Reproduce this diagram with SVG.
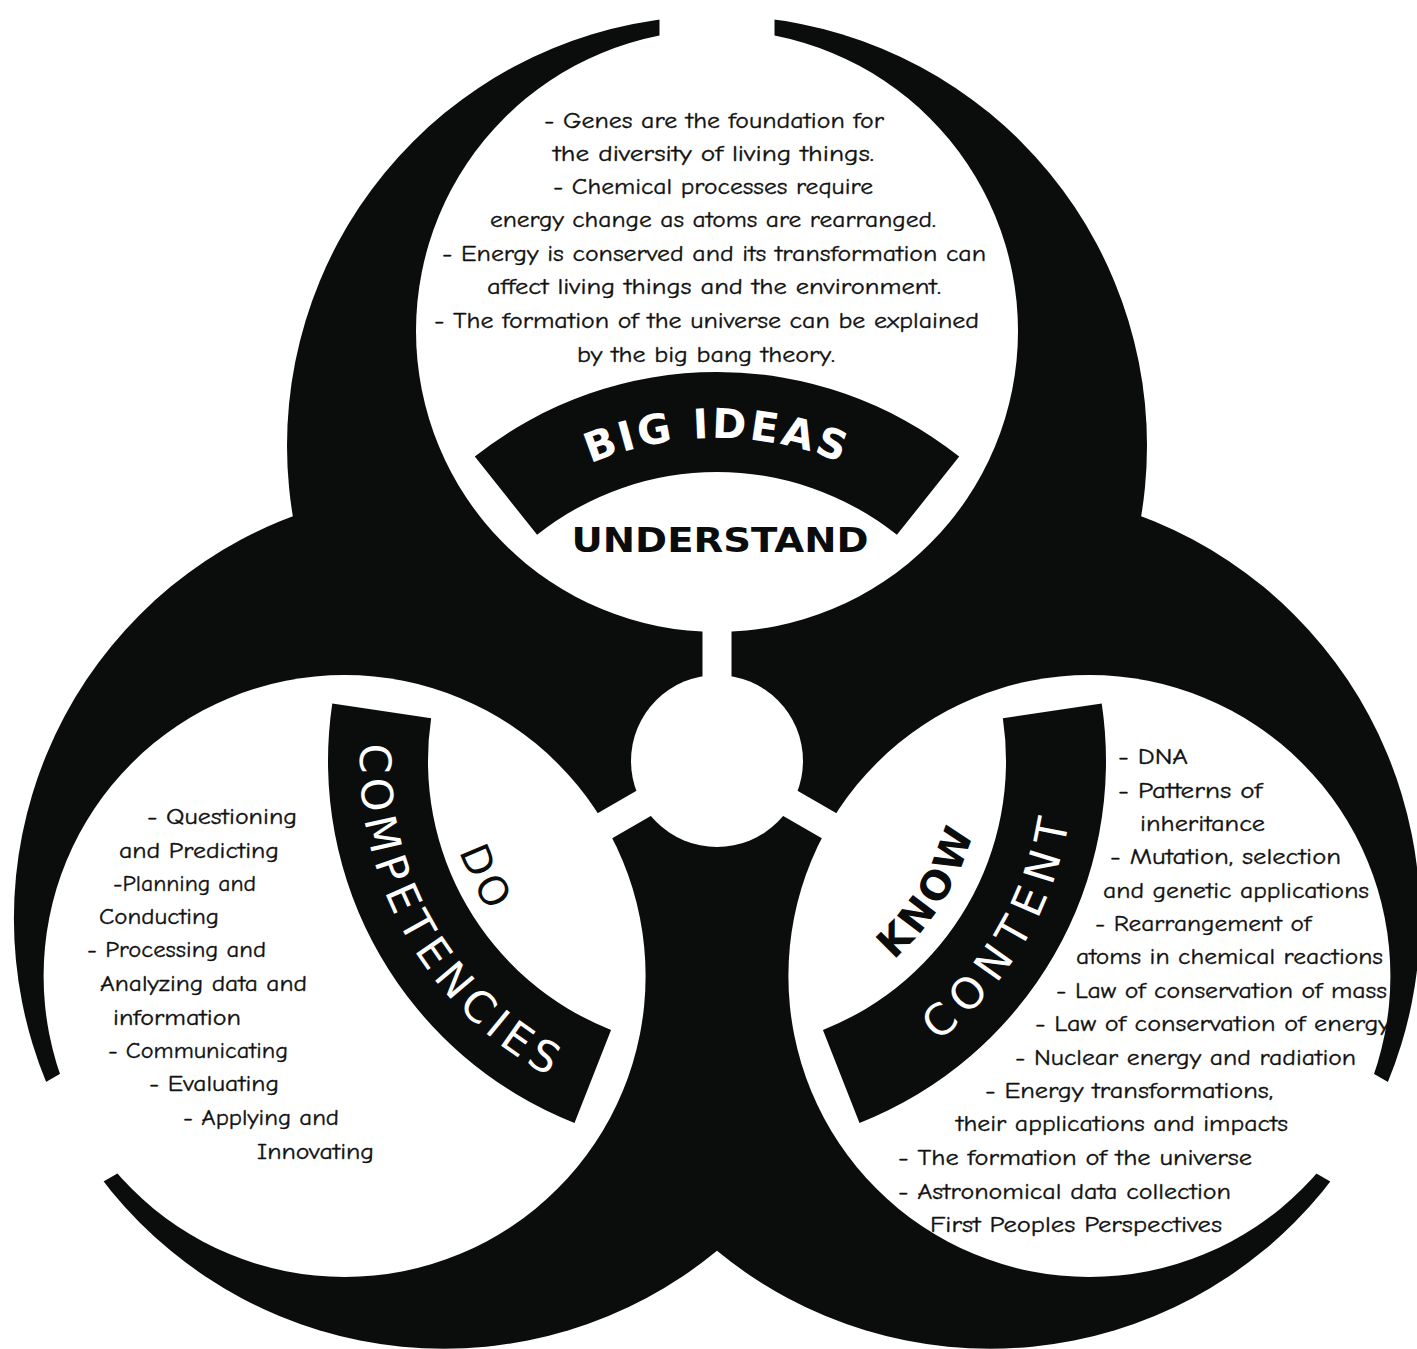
<svg xmlns="http://www.w3.org/2000/svg" xmlns:xlink="http://www.w3.org/1999/xlink" width="1417" height="1349" viewBox="0 0 1417 1349">
<style>
.ink{fill:#0b0c0c}
.paper{fill:#ffffff}
.body{font-family:'Comic Sans MS','Comic Neue','DejaVu Sans',sans-serif;font-size:23px;fill:#111111;stroke:#111111;stroke-width:0.35}
.band{font-family:'DejaVu Sans','Liberation Sans',sans-serif;fill:#ffffff}
.lbl{font-family:'DejaVu Sans','Liberation Sans',sans-serif;font-size:40px;fill:#0b0c0c}
.head{font-family:'DejaVu Sans','Liberation Sans',sans-serif;font-size:33px;font-weight:bold;fill:#0b0c0c}
</style>
<defs>
  <path id="bandShape" d="M 474.8 456.6 A 389 389 0 0 1 959.2 456.6 L 896.9 534.8 A 289 289 0 0 0 537.1 534.8 Z"/>
  <g id="cut">
    <rect x="702.5" y="500" width="29" height="261"/>
    <rect x="659.5" y="-150" width="115" height="481"/>
  </g>
  <path id="pBig" d="M 515.9 508.2 A 323 323 0 0 1 918.1 508.2"/>
  <path id="pComp" d="M 363.9 708.2 A 357 357 0 0 0 586.2 1093.2"/>
  <path id="pCont" d="M 847.8 1093.2 A 357 357 0 0 0 1070.1 708.2"/>
  <path id="pDo" d="M 446.0 793.8 A 273 273 0 0 0 530.4 960.2"/>
  <path id="pKnow" d="M 881.6 969.9 A 266 266 0 0 0 977.4 815.2"/>
</defs>
<rect x="0" y="0" width="1417" height="1349" fill="#ffffff"/>

<g id="symbol">
  <circle class="ink" cx="717" cy="445.7" r="430"/>
  <circle class="ink" cx="443.9" cy="918.7" r="430"/>
  <circle class="ink" cx="990.1" cy="918.7" r="430"/>
  <circle class="paper" cx="717" cy="331" r="301"/>
  <circle class="paper" cx="344.6" cy="976" r="301"/>
  <circle class="paper" cx="1089.4" cy="976" r="301"/>
  <circle id="center-hub" class="paper" cx="717" cy="761" r="86"/>
  <use xlink:href="#cut" class="paper"/>
  <use xlink:href="#cut" class="paper" transform="rotate(120 717 761)"/>
  <use xlink:href="#cut" class="paper" transform="rotate(240 717 761)"/>
</g>

<g id="connectors"></g>

<g id="node-big-ideas">
  <use xlink:href="#bandShape" class="ink"/>
  <text class="band" font-size="41" font-weight="bold" letter-spacing="3"><textPath xlink:href="#pBig" startOffset="50%" text-anchor="middle">BIG IDEAS</textPath></text>
  <text class="head" x="720" y="552" text-anchor="middle" textLength="297" lengthAdjust="spacingAndGlyphs">UNDERSTAND</text>
  <g class="body">
    <text x="544" y="128" textLength="340" lengthAdjust="spacingAndGlyphs">- Genes are the foundation for</text>
    <text x="553" y="161" textLength="321" lengthAdjust="spacingAndGlyphs">the diversity of living things.</text>
    <text x="553" y="194" textLength="320" lengthAdjust="spacingAndGlyphs">- Chemical processes require</text>
    <text x="490" y="227" textLength="446" lengthAdjust="spacingAndGlyphs">energy change as atoms are rearranged.</text>
    <text x="442" y="261" textLength="544" lengthAdjust="spacingAndGlyphs">- Energy is conserved and its transformation can</text>
    <text x="487" y="294" textLength="454" lengthAdjust="spacingAndGlyphs">affect living things and the environment.</text>
    <text x="434" y="328" textLength="545" lengthAdjust="spacingAndGlyphs">- The formation of the universe can be explained</text>
    <text x="577" y="362" textLength="258" lengthAdjust="spacingAndGlyphs">by the big bang theory.</text>
  </g>
</g>

<g id="node-competencies">
  <use xlink:href="#bandShape" class="ink" transform="rotate(-120 717 761)"/>
  <text class="band" font-size="43" letter-spacing="6"><textPath xlink:href="#pComp" startOffset="50%" text-anchor="middle">COMPETENCIES</textPath></text>
  <text class="lbl" letter-spacing="5"><textPath xlink:href="#pDo" startOffset="50%" text-anchor="middle">DO</textPath></text>
  <g class="body">
    <text x="147" y="824" textLength="150" lengthAdjust="spacingAndGlyphs">- Questioning</text>
    <text x="119" y="858" textLength="160" lengthAdjust="spacingAndGlyphs">and Predicting</text>
    <text x="113" y="891" textLength="143" lengthAdjust="spacingAndGlyphs">-Planning and</text>
    <text x="99" y="924" textLength="120" lengthAdjust="spacingAndGlyphs">Conducting</text>
    <text x="87" y="957" textLength="179" lengthAdjust="spacingAndGlyphs">- Processing and</text>
    <text x="100" y="991" textLength="207" lengthAdjust="spacingAndGlyphs">Analyzing data and</text>
    <text x="113" y="1025" textLength="128" lengthAdjust="spacingAndGlyphs">information</text>
    <text x="108" y="1058" textLength="180" lengthAdjust="spacingAndGlyphs">- Communicating</text>
    <text x="149" y="1091" textLength="130" lengthAdjust="spacingAndGlyphs">- Evaluating</text>
    <text x="183" y="1125" textLength="156" lengthAdjust="spacingAndGlyphs">- Applying and</text>
    <text x="257" y="1159" textLength="117" lengthAdjust="spacingAndGlyphs">Innovating</text>
  </g>
</g>

<g id="node-content">
  <use xlink:href="#bandShape" class="ink" transform="rotate(120 717 761)"/>
  <text class="band" font-size="43" letter-spacing="9"><textPath xlink:href="#pCont" startOffset="50%" text-anchor="middle">CONTENT</textPath></text>
  <text class="lbl" font-weight="bold" letter-spacing="3"><textPath xlink:href="#pKnow" startOffset="50%" text-anchor="middle">KNOW</textPath></text>
  <g class="body">
    <text x="1118" y="764" textLength="70" lengthAdjust="spacingAndGlyphs">- DNA</text>
    <text x="1118" y="798" textLength="144" lengthAdjust="spacingAndGlyphs">- Patterns of</text>
    <text x="1140" y="831" textLength="125" lengthAdjust="spacingAndGlyphs">inheritance</text>
    <text x="1110" y="864" textLength="231" lengthAdjust="spacingAndGlyphs">- Mutation, selection</text>
    <text x="1103" y="898" textLength="266" lengthAdjust="spacingAndGlyphs">and genetic applications</text>
    <text x="1095" y="931" textLength="216" lengthAdjust="spacingAndGlyphs">- Rearrangement of</text>
    <text x="1076" y="964" textLength="307" lengthAdjust="spacingAndGlyphs">atoms in chemical reactions</text>
    <text x="1056" y="998" textLength="331" lengthAdjust="spacingAndGlyphs">- Law of conservation of mass</text>
    <text x="1035" y="1031" textLength="355" lengthAdjust="spacingAndGlyphs">- Law of conservation of energy</text>
    <text x="1015" y="1065" textLength="341" lengthAdjust="spacingAndGlyphs">- Nuclear energy and radiation</text>
    <text x="985" y="1098" textLength="288" lengthAdjust="spacingAndGlyphs">- Energy transformations,</text>
    <text x="956" y="1131" textLength="332" lengthAdjust="spacingAndGlyphs">their applications and impacts</text>
    <text x="898" y="1165" textLength="354" lengthAdjust="spacingAndGlyphs">- The formation of the universe</text>
    <text x="898" y="1199" textLength="333" lengthAdjust="spacingAndGlyphs">- Astronomical data collection</text>
    <text x="930" y="1232" textLength="292" lengthAdjust="spacingAndGlyphs">First Peoples Perspectives</text>
  </g>
</g>
</svg>
